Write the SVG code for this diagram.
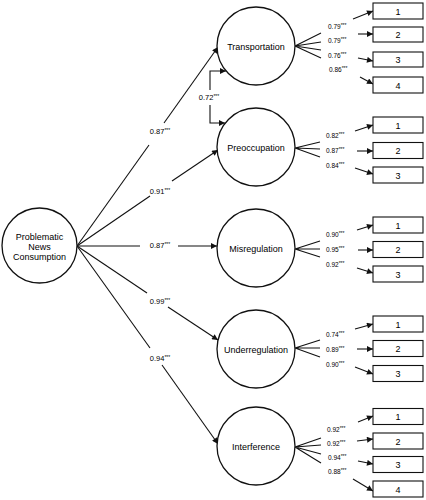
<svg xmlns="http://www.w3.org/2000/svg" width="426" height="500" viewBox="0 0 426 500">
<style>
.c{fill:#fff;stroke:#111;stroke-width:1.3}
.b{fill:#fff;stroke:#111;stroke-width:1.1}
.l{fill:none;stroke:#111;stroke-width:1.1}
.a{fill:none;stroke:#111;stroke-width:1.1;marker-end:url(#ah)}
.t{font-family:"Liberation Sans",Arial,sans-serif;font-size:9px;fill:#000;text-anchor:middle}
.n{font-family:"Liberation Sans",Arial,sans-serif;font-size:9px;fill:#000;text-anchor:middle}
.m{font-family:"Liberation Sans",Arial,sans-serif;font-size:7.5px;fill:#000;text-anchor:middle}
.s{font-family:"Liberation Sans",Arial,sans-serif;font-size:6.5px;fill:#000}
.st{font-size:5px}
</style>
<defs>
<marker id="ah" viewBox="0 0 10 10" refX="10" refY="5" markerWidth="8" markerHeight="6" markerUnits="userSpaceOnUse" orient="auto"><path d="M0,0 L10,5 L0,10 z" fill="#111"/></marker>
</defs>
<rect width="426" height="500" fill="#fff"/>

<g id="connectors">
<path class="l" d="M77,246 L149,145"/><path class="a" d="M164,123 L218,47"/>
<path class="l" d="M77,246 L150,196"/><path class="a" d="M172,181 L218,150"/>
<path class="l" d="M77,246 L140,246"/><path class="a" d="M178,246 L217,246"/>
<path class="l" d="M77,246 L147,293"/><path class="a" d="M168,307 L218,340"/>
<path class="l" d="M77,246 L150,348"/><path class="a" d="M162,365 L218,444"/>
<path class="a" d="M210,90 V71 H226"/><path class="a" d="M210,105 V123 H225"/>
<path class="l" d="M295,46 L321,33 M295,46 L321,42 M295,46 L321,50 M295,46 L321,58"/>
<path class="a" d="M353,19 L373,11"/><path class="a" d="M358,34 L373,34"/><path class="a" d="M358,58 L373,61"/><path class="a" d="M360,77 L373,84"/>
<path class="l" d="M295,148 L320,142 M295,148 L320,149 M295,148 L320,157"/>
<path class="a" d="M355,131 L373,125"/><path class="a" d="M357,151 L373,151"/><path class="a" d="M355,168 L373,174"/>
<path class="l" d="M295,249 L320,241 M295,249 L320,249 M295,249 L320,257"/>
<path class="a" d="M357,230 L373,225"/><path class="a" d="M358,250 L373,250"/><path class="a" d="M357,268 L373,273"/>
<path class="l" d="M295,348 L320,340 M295,348 L320,348 M295,348 L320,357"/>
<path class="a" d="M355,329 L373,324"/><path class="a" d="M357,349 L373,349"/><path class="a" d="M355,367 L373,374"/>
<path class="l" d="M295,447 L321,438 M295,447 L321,445 M295,447 L321,454 M295,447 L321,463"/>
<path class="a" d="M358,422 L373,416"/><path class="a" d="M357,441 L373,439"/><path class="a" d="M358,461 L373,464"/><path class="a" d="M353,479 L373,491"/>
<text class="m" x="160" y="134">0.87<tspan class="st" dy="-2">***</tspan></text>
<text class="m" x="160" y="194">0.91<tspan class="st" dy="-2">***</tspan></text>
<text class="m" x="160" y="248">0.87<tspan class="st" dy="-2">***</tspan></text>
<text class="m" x="160" y="304">0.99<tspan class="st" dy="-2">***</tspan></text>
<text class="m" x="160" y="361">0.94<tspan class="st" dy="-2">***</tspan></text>
<text class="m" x="209" y="100">0.72<tspan class="st" dy="-2">***</tspan></text>
<text class="s" x="328" y="28.5">0.79<tspan class="st" dy="-2">***</tspan></text>
<text class="s" x="328" y="43">0.79<tspan class="st" dy="-2">***</tspan></text>
<text class="s" x="328" y="57.5">0.76<tspan class="st" dy="-2">***</tspan></text>
<text class="s" x="329" y="72">0.86<tspan class="st" dy="-2">***</tspan></text>
<text class="s" x="326" y="138">0.82<tspan class="st" dy="-2">***</tspan></text>
<text class="s" x="326" y="153">0.87<tspan class="st" dy="-2">***</tspan></text>
<text class="s" x="326" y="167.5">0.84<tspan class="st" dy="-2">***</tspan></text>
<text class="s" x="326" y="236.5">0.90<tspan class="st" dy="-2">***</tspan></text>
<text class="s" x="326" y="251.5">0.95<tspan class="st" dy="-2">***</tspan></text>
<text class="s" x="326" y="266.5">0.92<tspan class="st" dy="-2">***</tspan></text>
<text class="s" x="326" y="336.5">0.74<tspan class="st" dy="-2">***</tspan></text>
<text class="s" x="326" y="351.5">0.89<tspan class="st" dy="-2">***</tspan></text>
<text class="s" x="326" y="366.5">0.90<tspan class="st" dy="-2">***</tspan></text>
<text class="s" x="327" y="431.5">0.92<tspan class="st" dy="-2">***</tspan></text>
<text class="s" x="327" y="445.5">0.92<tspan class="st" dy="-2">***</tspan></text>
<text class="s" x="328" y="459.5">0.94<tspan class="st" dy="-2">***</tspan></text>
<text class="s" x="328" y="474">0.88<tspan class="st" dy="-2">***</tspan></text>
</g>

<g id="pnc"><circle class="c" cx="39.5" cy="245.5" r="37.5"/>
<text class="t" x="39.5" y="240">Problematic</text><text class="t" x="39.5" y="250">News</text><text class="t" x="39.5" y="260">Consumption</text></g>
<g id="transportation"><circle class="c" cx="256" cy="46" r="39"/><text class="t" x="256" y="50">Transportation</text></g>
<g id="preoccupation"><circle class="c" cx="256" cy="147" r="39"/><text class="t" x="256" y="151">Preoccupation</text></g>
<g id="misregulation"><circle class="c" cx="256" cy="248" r="39"/><text class="t" x="256" y="252">Misregulation</text></g>
<g id="underregulation"><circle class="c" cx="256" cy="349" r="39"/><text class="t" x="256" y="353">Underregulation</text></g>
<g id="interference"><circle class="c" cx="256" cy="446" r="39"/><text class="t" x="256" y="450">Interference</text></g>

<g id="t1"><rect class="b" x="373" y="3" width="50" height="16"/><text class="n" x="398" y="14.5">1</text></g>
<g id="t2"><rect class="b" x="373" y="27" width="50" height="15"/><text class="n" x="398" y="38">2</text></g>
<g id="t3"><rect class="b" x="373" y="52" width="50" height="15"/><text class="n" x="398" y="63">3</text></g>
<g id="t4"><rect class="b" x="373" y="77" width="50" height="16"/><text class="n" x="398" y="88.5">4</text></g>
<g id="p1"><rect class="b" x="373" y="117" width="50" height="16"/><text class="n" x="398" y="128.5">1</text></g>
<g id="p2"><rect class="b" x="373" y="142.5" width="50" height="16"/><text class="n" x="398" y="154">2</text></g>
<g id="p3"><rect class="b" x="373" y="167" width="50" height="16"/><text class="n" x="398" y="178.5">3</text></g>
<g id="m1"><rect class="b" x="373" y="217" width="50" height="16"/><text class="n" x="398" y="228.5">1</text></g>
<g id="m2"><rect class="b" x="373" y="241.5" width="50" height="16"/><text class="n" x="398" y="253">2</text></g>
<g id="m3"><rect class="b" x="373" y="266" width="50" height="16"/><text class="n" x="398" y="277.5">3</text></g>
<g id="u1"><rect class="b" x="373" y="316" width="50" height="16"/><text class="n" x="398" y="327.5">1</text></g>
<g id="u2"><rect class="b" x="373" y="340.5" width="50" height="16"/><text class="n" x="398" y="352">2</text></g>
<g id="u3"><rect class="b" x="373" y="365.5" width="50" height="16"/><text class="n" x="398" y="377">3</text></g>
<g id="i1"><rect class="b" x="373" y="408.5" width="50" height="16"/><text class="n" x="398" y="420">1</text></g>
<g id="i2"><rect class="b" x="373" y="433" width="50" height="16"/><text class="n" x="398" y="444.5">2</text></g>
<g id="i3"><rect class="b" x="373" y="456.5" width="50" height="16"/><text class="n" x="398" y="468">3</text></g>
<g id="i4"><rect class="b" x="373" y="481" width="50" height="16"/><text class="n" x="398" y="492.5">4</text></g>
</svg>
